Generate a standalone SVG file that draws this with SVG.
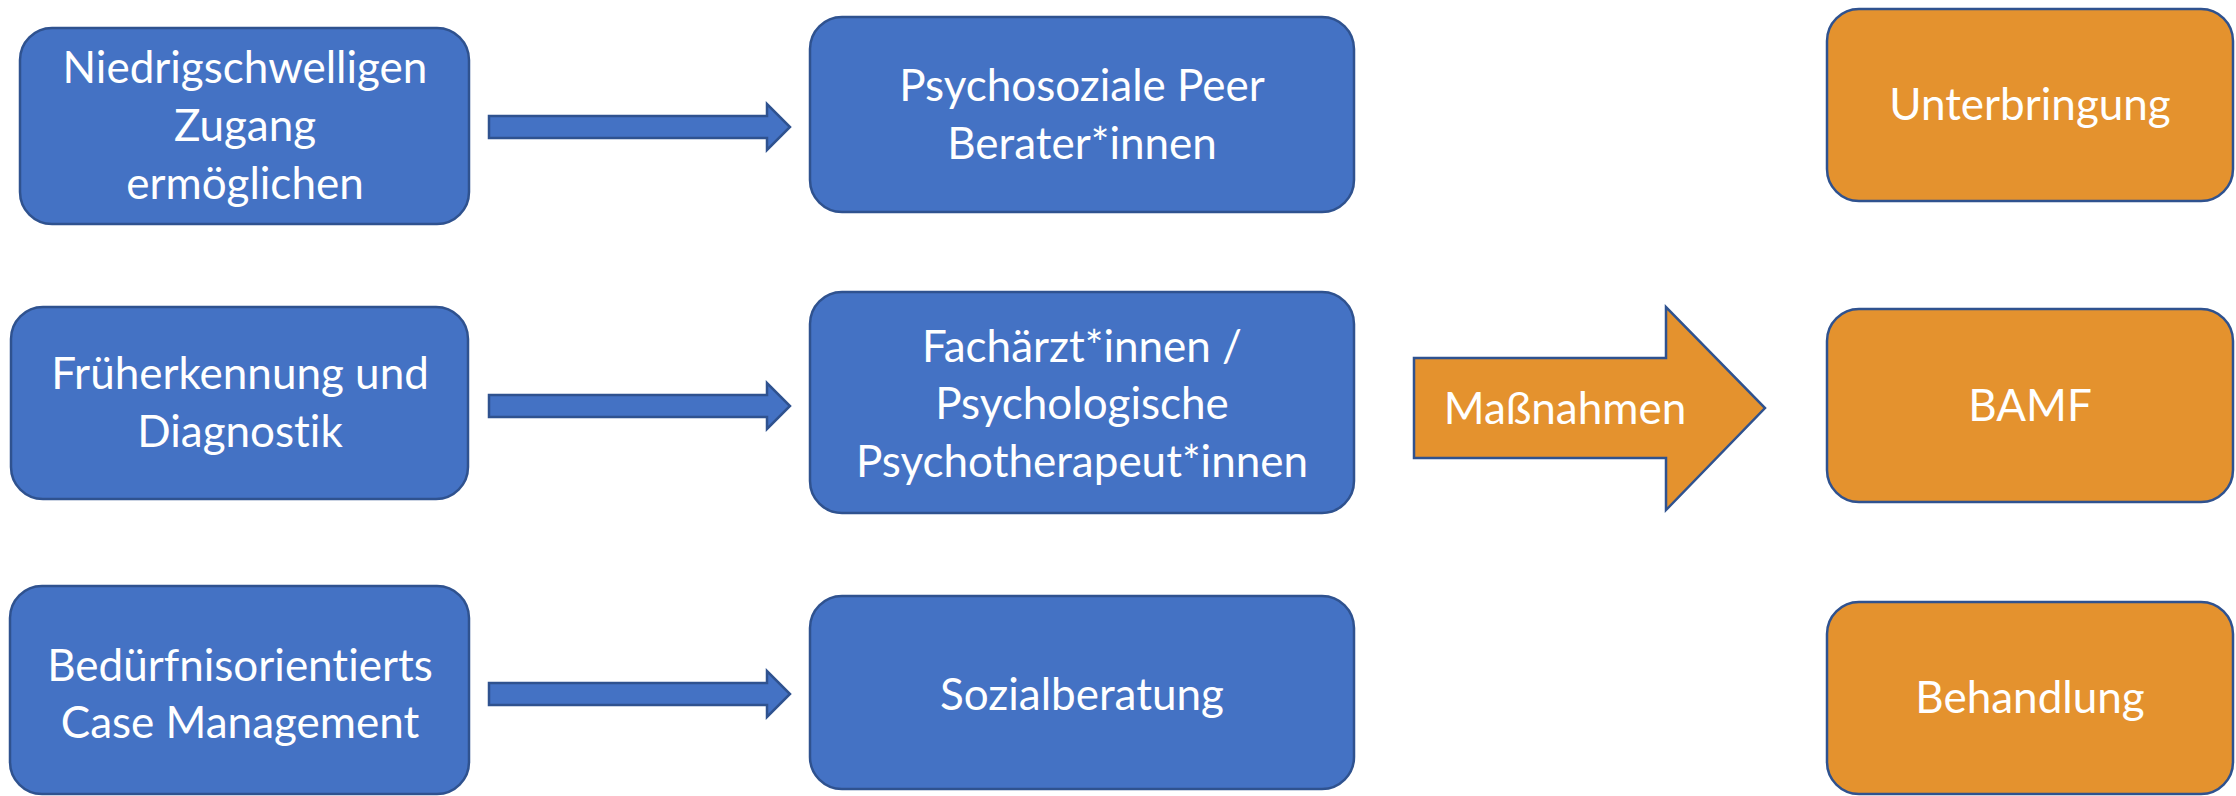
<svg xmlns="http://www.w3.org/2000/svg" width="2236" height="796" viewBox="0 0 2236 796">
<style>
.blue{fill:#4472C4;stroke:#2F528F;stroke-width:2.5}
.orange{fill:#E4922E;stroke:#2F528F;stroke-width:2.5}
.t{font-family:Lato,"Open Sans","Liberation Sans",sans-serif;font-size:44px;fill:#FFFFFF;text-anchor:middle;font-variant-ligatures:none;font-feature-settings:"liga" 0,"dlig" 0}
</style>
<rect width="2236" height="796" fill="#FFFFFF"/>
<g id="n1"><rect class="blue" x="20" y="28" width="449" height="196" rx="32"/>
<text class="t" x="245" y="83">Niedrigschwelligen</text><text class="t" x="245" y="141">Zugang</text><text class="t" x="245" y="199">ermöglichen</text></g>
<g id="n2"><rect class="blue" x="11" y="307" width="457" height="192" rx="32"/>
<text class="t" x="240" y="389">Früherkennung und</text><text class="t" x="240" y="447">Diagnostik</text></g>
<g id="n3"><rect class="blue" x="10" y="586" width="459" height="208" rx="32"/>
<text class="t" x="240" y="681">Bedürfnisorientierts</text><text class="t" x="240" y="738">Case Management</text></g>
<g id="n4"><rect class="blue" x="810" y="17" width="544" height="195" rx="32"/>
<text class="t" x="1082" y="101">Psychosoziale Peer</text><text class="t" x="1082" y="159">Berater*innen</text></g>
<g id="n5"><rect class="blue" x="810" y="292" width="544" height="221" rx="32"/>
<text class="t" x="1082" y="362">Fachärzt*innen /</text><text class="t" x="1082" y="419">Psychologische</text><text class="t" x="1082" y="477">Psychotherapeut*innen</text></g>
<g id="n6"><rect class="blue" x="810" y="596" width="544" height="193" rx="32"/>
<text class="t" x="1082" y="710">Sozialberatung</text></g>
<g id="n7"><rect class="orange" x="1827" y="9" width="406" height="192" rx="32"/>
<text class="t" x="2030" y="120">Unterbringung</text></g>
<g id="n8"><rect class="orange" x="1827" y="309" width="406" height="193" rx="32"/>
<text class="t" x="2030" y="421">BAMF</text></g>
<g id="n9"><rect class="orange" x="1827" y="602" width="406" height="192" rx="32"/>
<text class="t" x="2030" y="713">Behandlung</text></g>
<g id="n10"><path class="orange" d="M1414 358 H1666 V307 L1765 408 L1666 510 V458 H1414 Z"/>
<text class="t" x="1565" y="424">Maßnahmen</text></g>
<g id="connectors">
<path class="blue" d="M489 116 H767 V104 L790 127 L767 150 V138 H489 Z"/>
<path class="blue" d="M489 395 H767 V383 L790 406 L767 429 V417 H489 Z"/>
<path class="blue" d="M489 683 H767 V671 L790 694 L767 717 V705 H489 Z"/>
</g>
</svg>
